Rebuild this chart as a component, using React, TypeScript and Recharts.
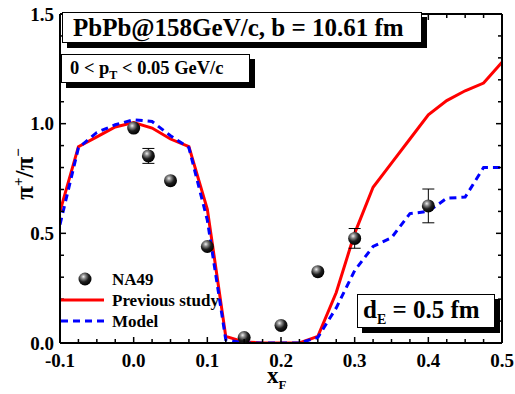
/* pi+/pi- ratio vs xF — NA49 data with two model curves */
import {
  ComposedChart, Line, Scatter, ErrorBar, XAxis, YAxis,
} from 'recharts';

const FONT = '"Liberation Serif", "Times New Roman", serif';

// curve grid in x_F
const xGrid = [
  -0.1, -0.075, -0.05, -0.025, 0, 0.025, 0.05, 0.075, 0.1, 0.125, 0.15, 0.175,
  0.2, 0.225, 0.25, 0.275, 0.3, 0.325, 0.35, 0.375, 0.4, 0.425, 0.45, 0.475, 0.5,
];
const previousStudy = [
  0.6, 0.895, 0.94, 0.985, 1.005, 0.98, 0.93, 0.895, 0.61, 0.03, 0.005, 0.0,
  0.0, 0.0, 0.03, 0.23, 0.5, 0.71, 0.82, 0.93, 1.04, 1.105, 1.15, 1.185, 1.28,
];
const model = [
  0.54, 0.89, 0.96, 0.995, 1.018, 1.01, 0.945, 0.89, 0.56, 0.015, 0.0, 0.0,
  0.0, 0.0, 0.025, 0.16, 0.33, 0.44, 0.48, 0.59, 0.6, 0.66, 0.665, 0.8, 0.8,
];

// NA49 measurements
const na49X = [0, 0.02, 0.05, 0.1, 0.15, 0.2, 0.25, 0.3, 0.4];
const na49Y = [0.98, 0.853, 0.74, 0.44, 0.025, 0.08, 0.325, 0.477, 0.625];
const na49Err = [0, 0.034, 0, 0, 0, 0, 0, 0.045, 0.077];

const xMajor = [-0.1, 0, 0.1, 0.2, 0.3, 0.4, 0.5];
const yMajor = [0, 0.5, 1.0, 1.5];

const xTicks = Array.from({ length: 25 }, (_, i) => +(-0.1 + i * 0.025).toFixed(3));
const yTicks = Array.from({ length: 16 }, (_, i) => +(i * 0.1).toFixed(1));

const prevData = xGrid.map((x, i) => ({ x, y: previousStudy[i] }));
const modelData = xGrid.map((x, i) => ({ x, y: model[i] }));
const na49Data = na49X.map((x, i) => ({ x, y: na49Y[i], err: na49Err[i] }));

const isMajor = (v: number, majors: number[]) => majors.some(m => Math.abs(m - v) < 1e-6);

function Ball({ cx, cy }: any) {
  return (
    <g>
      <defs>
        <radialGradient id="ballGrad" cx="38%" cy="32%" r="68%">
          <stop offset="0%" stopColor="#f0f0f0" />
          <stop offset="25%" stopColor="#8a8a8a" />
          <stop offset="60%" stopColor="#1e1e1e" />
          <stop offset="100%" stopColor="#000" />
        </radialGradient>
      </defs>
      <circle cx={cx} cy={cy} r={6.5} fill="url(#ballGrad)" />
    </g>
  );
}

function BottomTick({ x, y, payload }: any) {
  const major = isMajor(payload.value, xMajor);
  return (
    <g>
      <line x1={x} x2={x} y1={y} y2={y - (major ? 6 : 4)} stroke="#000" strokeWidth={1.5} />
      {major && (
        <text x={x} y={y + 24} textAnchor="middle" fontFamily={FONT} fontWeight="bold"
          fontSize={19} fill="#000">
          {payload.value.toFixed(1)}
        </text>
      )}
    </g>
  );
}

function TopTick({ x, y, payload }: any) {
  const major = isMajor(payload.value, xMajor);
  return <line x1={x} x2={x} y1={y} y2={y + (major ? 6 : 4)} stroke="#000" strokeWidth={1.5} />;
}

function LeftTick({ x, y, payload }: any) {
  const major = isMajor(payload.value, yMajor);
  return (
    <g>
      <line x1={x} x2={x + (major ? 6 : 4)} y1={y} y2={y} stroke="#000" strokeWidth={1.5} />
      {major && (
        <text x={x - 6} y={y + 6.5} textAnchor="end" fontFamily={FONT} fontWeight="bold"
          fontSize={19} fill="#000">
          {payload.value.toFixed(1)}
        </text>
      )}
    </g>
  );
}

function RightTick({ x, y, payload }: any) {
  const major = isMajor(payload.value, yMajor);
  return <line x1={x} x2={x - (major ? 6 : 4)} y1={y} y2={y} stroke="#000" strokeWidth={1.5} />;
}

const boxStyle: React.CSSProperties = {
  position: 'absolute', background: '#fff', border: '1px solid #000',
  boxShadow: '5px 5px 0 #000', fontFamily: FONT, fontWeight: 'bold',
  color: '#000', whiteSpace: 'nowrap', boxSizing: 'border-box',
};

const legendText: React.CSSProperties = {
  position: 'absolute', fontFamily: FONT, fontWeight: 'bold', fontSize: 17,
  color: '#000', whiteSpace: 'nowrap', lineHeight: 1,
};

export default function App() {
  return (
    <div style={{ position: 'absolute', left: 0, top: 0, width: 515, height: 394, background: '#fff' }}>
      <ComposedChart width={515} height={394} margin={{ top: 0, right: 0, bottom: 0, left: 0 }}>
        <XAxis type="number" dataKey="x" domain={[-0.1, 0.5]} ticks={xTicks} interval={0}
          height={51} tickSize={0} tickMargin={0} tickLine={false} tick={<BottomTick />}
          axisLine={{ stroke: '#000', strokeWidth: 2 }} allowDataOverflow />
        <XAxis xAxisId="top" orientation="top" type="number" dataKey="x" domain={[-0.1, 0.5]}
          ticks={xTicks} interval={0} height={14} tickSize={0} tickMargin={0} tickLine={false}
          tick={<TopTick />} axisLine={{ stroke: '#000', strokeWidth: 2 }} allowDataOverflow />
        <YAxis type="number" domain={[0, 1.5]} ticks={yTicks} interval={0} width={60}
          tickSize={0} tickMargin={0} tickLine={false} tick={<LeftTick />}
          axisLine={{ stroke: '#000', strokeWidth: 2 }} allowDataOverflow />
        <YAxis yAxisId="right" orientation="right" type="number" domain={[0, 1.5]} ticks={yTicks}
          interval={0} width={13} tickSize={0} tickMargin={0} tickLine={false} tick={<RightTick />}
          axisLine={{ stroke: '#000', strokeWidth: 2 }} allowDataOverflow />
        <Line data={prevData} dataKey="y" type="linear" stroke="#ff0000" strokeWidth={3}
          dot={false} activeDot={false} isAnimationActive={false} />
        <Line data={modelData} dataKey="y" type="linear" stroke="#0000ff" strokeWidth={3}
          strokeDasharray="7 5" dot={false} activeDot={false} isAnimationActive={false} />
        <Scatter data={na49Data} dataKey="y" shape={<Ball />} isAnimationActive={false}>
          <ErrorBar dataKey="err" direction="y" width={6} stroke="#000" strokeWidth={1} />
        </Scatter>
      </ComposedChart>

      {/* annotation boxes */}
      <div style={{ ...boxStyle, left: 62, top: 12, width: 360, height: 31, fontSize: 25, lineHeight: '29px', paddingLeft: 10 }}>
        PbPb@158GeV/c, b = 10.61 fm
      </div>
      <div style={{ ...boxStyle, left: 61, top: 54, width: 189, height: 29, fontSize: 18.5, lineHeight: '26px', paddingLeft: 8 }}>
        0 &lt; p<sub style={{ fontSize: 12 }}>T</sub> &lt; 0.05 GeV/c
      </div>
      <div style={{ ...boxStyle, left: 357, top: 294, width: 138, height: 34, fontSize: 25, lineHeight: '30px', paddingLeft: 5 }}>
        d<sub style={{ fontSize: 14 }}>E</sub> = 0.5 fm
      </div>

      {/* legend */}
      <svg style={{ position: 'absolute', left: 0, top: 0 }} width={515} height={394} pointerEvents="none">
        <Ball cx={85} cy={279} />
        <line x1={61} x2={104} y1={300} y2={300} stroke="#ff0000" strokeWidth={3} />
        <line x1={61} x2={104} y1={321} y2={321} stroke="#0000ff" strokeWidth={3} strokeDasharray="7 5" />
      </svg>
      <div style={{ ...legendText, left: 112, top: 271 }}>NA49</div>
      <div style={{ ...legendText, left: 112, top: 292 }}>Previous study</div>
      <div style={{ ...legendText, left: 112, top: 313 }}>Model</div>

      {/* axis titles */}
      <div style={{
        position: 'absolute', left: 24, top: 174, transform: 'translate(-50%, -50%) rotate(-90deg)',
        fontFamily: FONT, fontWeight: 'bold', fontSize: 25, whiteSpace: 'nowrap', color: '#000',
        lineHeight: 1,
      }}>
        π<sup style={{ fontSize: 15 }}>+</sup>/π<sup style={{ fontSize: 15 }}>−</sup>
      </div>
      <div style={{
        position: 'absolute', left: 267, top: 364, fontFamily: FONT, fontWeight: 'bold',
        fontSize: 23, color: '#000', whiteSpace: 'nowrap', lineHeight: 1,
      }}>
        x<sub style={{ fontSize: 13 }}>F</sub>
      </div>
    </div>
  );
}
